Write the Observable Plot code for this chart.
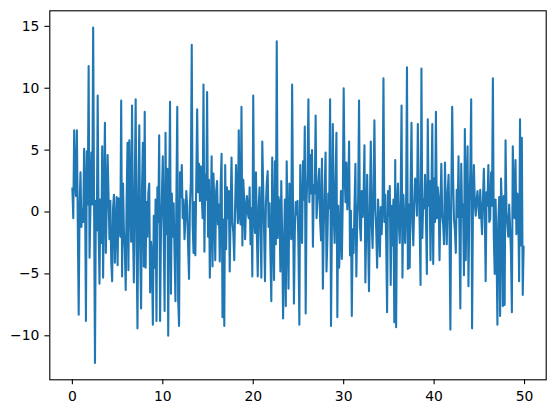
<!DOCTYPE html>
<html>
<head>
<meta charset="utf-8">
<script src="https://cdn.jsdelivr.net/npm/d3@7"></script>
<script src="https://cdn.jsdelivr.net/npm/@observablehq/plot@0.6"></script>
<style>
  html, body { margin: 0; padding: 0; background: #fff; }
  #chart svg { display: block; }
</style>
</head>
<body>
<div id="chart"></div>
<script>
// Series values, one per 0.1 step of x (x = 0.0 … 49.9)
const values = [
  1.9, -0.5, 6.6, 2.4, 1.3, 6.6, -1.0, -8.3, 0.5, 3.2,
  -1.2, 0.2, -0.8, 5.1, 2.0, -8.8, 4.9, 0.6, 11.8, -3.7,
  0.4, 4.8, 0.6, 14.9, 0.8, -12.2, 0.9, -1.5, 9.4, -1.0,
  -5.8, 1.0, -2.5, 5.3, -5.3, 1.4, 7.2, -3.3, 0.6, 4.6,
  1.4, -2.2, 0.9, -4.0, -5.6, 0.3, 1.4, -4.1, -1.1, 1.2,
  -4.3, 1.1, -0.9, -2.0, 9.0, -5.2, 2.3, -1.5, -3.0, -6.3,
  1.0, 5.6, -4.7, 5.8, 1.2, -2.4, 8.6, -1.4, -5.7, 2.0,
  9.1, -2.5, -9.4, 1.5, 7.0, -3.0, -7.8, 1.9, 5.6, -4.4,
  8.1, -4.5, 0.8, -2.0, 1.5, 2.3, -6.5, -2.4, -3.6, -9.1,
  -0.3, -4.5, 1.0, -8.8, 2.0, -0.8, 6.2, -8.8, -1.5, 1.3,
  4.5, -1.7, -8.0, 6.4, -1.8, 3.5, -10.0, 1.1, 8.9, -6.6,
  1.5, -2.0, 0.7, -3.4, -7.2, 1.0, 8.5, -7.1, -9.2, 3.2,
  1.2, 3.8, -0.5, 1.0, -2.2, -0.6, 1.7, 0.4, -2.8, -5.4,
  0.6, 2.4, 13.5, -1.0, -3.3, 0.8, -3.5, 2.5, 8.3, 1.6,
  3.9, 0.9, 3.7, 1.5, -0.5, 10.3, -3.2, 3.0, 1.0, 9.7,
  -2.0, 2.6, -5.3, -0.6, 4.5, -4.4, 3.1, 0.5, -3.9, 1.7,
  2.5, -1.0, 0.6, -4.0, 2.2, 4.7, -8.5, -0.6, -9.2, 3.8,
  -3.0, 2.0, -0.5, 1.7, -4.8, 0.4, 4.4, -0.9, -1.7, -3.9,
  0.5, 3.8, 1.0, -0.9, 6.6, -0.2, -1.0, 8.5, -2.7, 2.6,
  1.0, -2.2, 0.4, 1.3, -0.1, -0.5, 2.0, -2.6, 0.3, -5.2,
  9.4, -0.5, -1.7, 3.2, -1.8, -5.2, 0.5, 2.0, -1.2, -5.3,
  5.7, 2.1, -1.6, -5.6, 0.6, 2.4, 3.3, -1.2, 0.7, -3.4,
  -7.2, 4.4, -1.8, -5.5, 4.1, -2.6, 13.8, -2.1, 1.2, 0.6,
  -4.8, 2.5, -2.0, -8.6, -2.8, 1.0, -7.6, 4.1, -1.3, -6.2,
  2.3, 0.5, -2.2, 10.3, 0.5, -7.4, -1.6, 0.8, -0.2, 0.9,
  -2.8, -9.1, 3.8, -0.7, -2.5, 4.1, 1.0, 6.9, -8.2, 0.9,
  3.2, 9.1, 0.8, 4.6, 1.5, 5.0, -2.8, 2.2, 1.5, 7.8,
  -0.5, 0.8, 2.4, 3.5, -0.8, -2.3, 4.3, -6.2, -1.2, 1.9,
  4.8, -4.8, -2.2, 1.5, 0.3, 9.1, -9.2, -1.0, 7.1, -0.3,
  -2.5, 2.5, 6.4, -8.5, 0.5, -4.5, -2.0, 1.7, -3.8, 0.9,
  10.0, 3.2, 0.8, 4.0, 0.2, 1.7, 5.7, -3.5, 0.1, -8.4,
  -1.4, -3.3, 0.6, 3.9, -5.2, -0.6, 1.0, 9.0, -1.1, -2.3,
  1.7, -0.4, 1.5, 5.4, -5.7, -1.0, 3.0, -2.0, -6.4, 0.5,
  5.7, -0.9, -2.9, 1.8, 7.4, 0.2, -1.5, -4.5, 1.0, -0.8,
  -3.6, 0.4, -1.8, 0.6, 10.8, -0.8, 1.4, -2.2, -8.1, 1.7,
  -0.3, 2.1, -5.9, 0.5, -2.7, 1.0, -8.9, 4.2, -9.3, 0.5,
  2.3, -1.0, -2.5, 1.0, 8.6, -5.3, 1.4, -0.4, -2.5, 0.3,
  11.7, -4.6, 0.6, -4.5, 2.0, 7.2, -0.8, -2.7, 0.5, 2.7,
  2.0, -0.3, 7.1, 2.3, -0.9, -5.9, 11.6, -2.1, 1.0, 0.3,
  3.0, -0.5, -5.0, 7.5, 0.5, 2.5, -3.9, 1.3, 7.1, -4.2,
  2.7, -0.8, 8.1, -0.5, 2.0, 1.1, -3.9, 0.5, 3.9, -0.3,
  -1.0, -2.6, 4.0, 0.4, -2.6, 1.5, 3.0, -1.2, -9.5, 1.3,
  8.5, 2.7, -0.6, -1.5, -3.3, 1.8, -0.4, 4.5, -1.6, -7.8,
  3.9, -0.4, 0.6, -5.1, 6.7, -3.9, 1.8, 5.3, -6.0, 0.8,
  3.2, 9.1, -9.4, 0.9, 3.8, 0.7, -0.3, 1.0, 1.7, 0.4,
  -0.5, 1.8, -0.2, -1.8, 0.9, 3.5, 0.4, -5.6, 1.6, 0.5,
  3.8, -0.8, -0.6, 3.2, 0.5, 10.8, -2.0, -5.0, 1.0, -2.8,
  -9.1, -0.8, 1.2, -8.4, 2.7, 0.3, -7.6, 1.3, -7.5, 5.8,
  0.0, -1.0, -2.0, 0.6, -1.2, -3.3, -8.1, 5.3, 1.2, -0.5,
  4.2, -1.8, 1.5, 0.9, -5.6, 7.5, -2.7, 6.0, -6.7, -2.8
];
const xStep = 0.1;
const xTicks = [0, 10, 20, 30, 40, 50];
const yTicks = [-10, -5, 0, 5, 10, 15];

const data = values.map((v, i) => ({x: +(i * xStep).toFixed(1), y: v}));

const xMin = d3.min(data, d => d.x), xMax = d3.max(data, d => d.x);
const yMin = d3.min(data, d => d.y), yMax = d3.max(data, d => d.y);
const xPad = (xMax - xMin) * 0.05, yPad = (yMax - yMin) * 0.05;

const chart = Plot.plot({
  width: 554,
  height: 413,
  marginLeft: 49.3,
  marginRight: 8.3,
  marginTop: 10.3,
  marginBottom: 33.7,
  style: {fontFamily: "'DejaVu Sans', sans-serif", fontSize: "13.9px", background: "#fff", color: "#000"},
  x: {domain: [xMin - xPad, xMax + xPad], label: null},
  y: {domain: [yMin - yPad, yMax + yPad], label: null},
  marks: [
    Plot.line(data, {x: "x", y: "y", stroke: "#1f77b4", strokeWidth: 2.08, strokeLinejoin: "round", strokeLinecap: "square"}),
    Plot.frame({stroke: "#000", strokeWidth: 1.1}),
    Plot.axisX({ticks: xTicks, tickSize: 4.9, tickPadding: 6, fontSize: 13.9, strokeWidth: 1.1, label: null}),
    Plot.axisY({ticks: yTicks, tickSize: 4.9, tickPadding: 5.5, fontSize: 13.9, strokeWidth: 1.1, label: null})
  ]
});
document.getElementById("chart").appendChild(chart);
</script>
</body>
</html>
